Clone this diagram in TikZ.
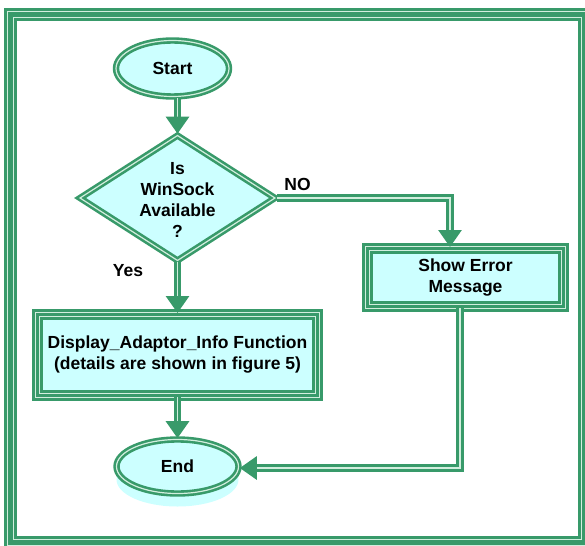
\documentclass[tikz,border=0pt]{standalone}
\usepackage{fontspec}
\setmainfont{Liberation Sans}
\usetikzlibrary{shapes.geometric,arrows.meta,shadows}

\definecolor{flowgreen}{RGB}{56,154,106}
\definecolor{paleline}{RGB}{210,238,222}
\definecolor{boxfill}{RGB}{204,255,255}
\newcommand{\flowfont}{\fontsize{17.5}{21}\selectfont\bfseries}

\tikzstyle{terminal} = [ellipse, draw=flowgreen, line width=2.6pt, double=paleline, double distance=1.2pt, fill=boxfill, inner sep=0pt, font=\flowfont]
\tikzstyle{decision} = [diamond, draw=flowgreen, line width=2.6pt, double=paleline, double distance=1.2pt, fill=boxfill, inner sep=0pt, minimum width=196pt, minimum height=126pt]
\tikzstyle{process} = [rectangle, preaction={fill=boxfill}, preaction={draw=flowgreen, line width=11pt}, preaction={draw=paleline, line width=5pt}, draw=flowgreen, line width=3pt, inner sep=0pt, align=center, font=\flowfont]
\tikzstyle{flow} = [draw=flowgreen, line width=3pt, double=paleline, double distance=1.6pt, -{Triangle[width=23pt,length=17pt]}]
\tikzstyle{tag} = [font=\flowfont, anchor=base]

\begin{document}
\begin{tikzpicture}[x=1pt, y=-1pt]
      \useasboundingbox (0,0) rectangle (585,545);
      % outer frame
      \draw[flowgreen, line width=13pt] (10.5,14.5) rectangle (584.5,542.5);
      \draw[paleline, line width=7pt] (10.5,14.5) rectangle (584.5,542.5);
      \draw[flowgreen, line width=5pt] (10.5,14.5) rectangle (584.5,542.5);

      \node[terminal, minimum width=113pt, minimum height=56pt] (start) at (172.5,68.5) {Start};
      \node[decision] (avail) at (177.5,198) {};
      \node[font=\flowfont, align=center] (availtext) at (177.5,200) {Is\\WinSock\\Available\\?};
      \node[process, minimum width=196pt, minimum height=58pt] (err) at (465.5,277.5) {Show Error\\Message};
      \node[process, minimum width=280pt, minimum height=81pt] (disp) at (177.5,355) {Display\_Adaptor\_Info Function\\(details are shown in figure 5)};
      \node[terminal, minimum width=122pt, minimum height=54pt, general shadow={fill=boxfill, shadow yshift=-13pt}] (end) at (177.5,466.5) {End};

      \node[tag] (notag) at (297.5,190) {NO};
      \node[tag] (yestag) at (128,276) {Yes};

      \coordinate (noturn) at (450,198);
      \coordinate (errturn) at (460,468);
      \draw[flow] (start.south -| avail.north) -- (avail.north);
      \draw[flow] (avail.south) -- (disp.north);
      \draw[flow] (disp.south) -- (end.north);
      \draw[flow] (avail.east) -- (noturn) -- (noturn |- err.north);
      \draw[flow] (err.south -| errturn) -- (errturn) -- (end.east |- errturn);
    \end{tikzpicture}
\end{document}
